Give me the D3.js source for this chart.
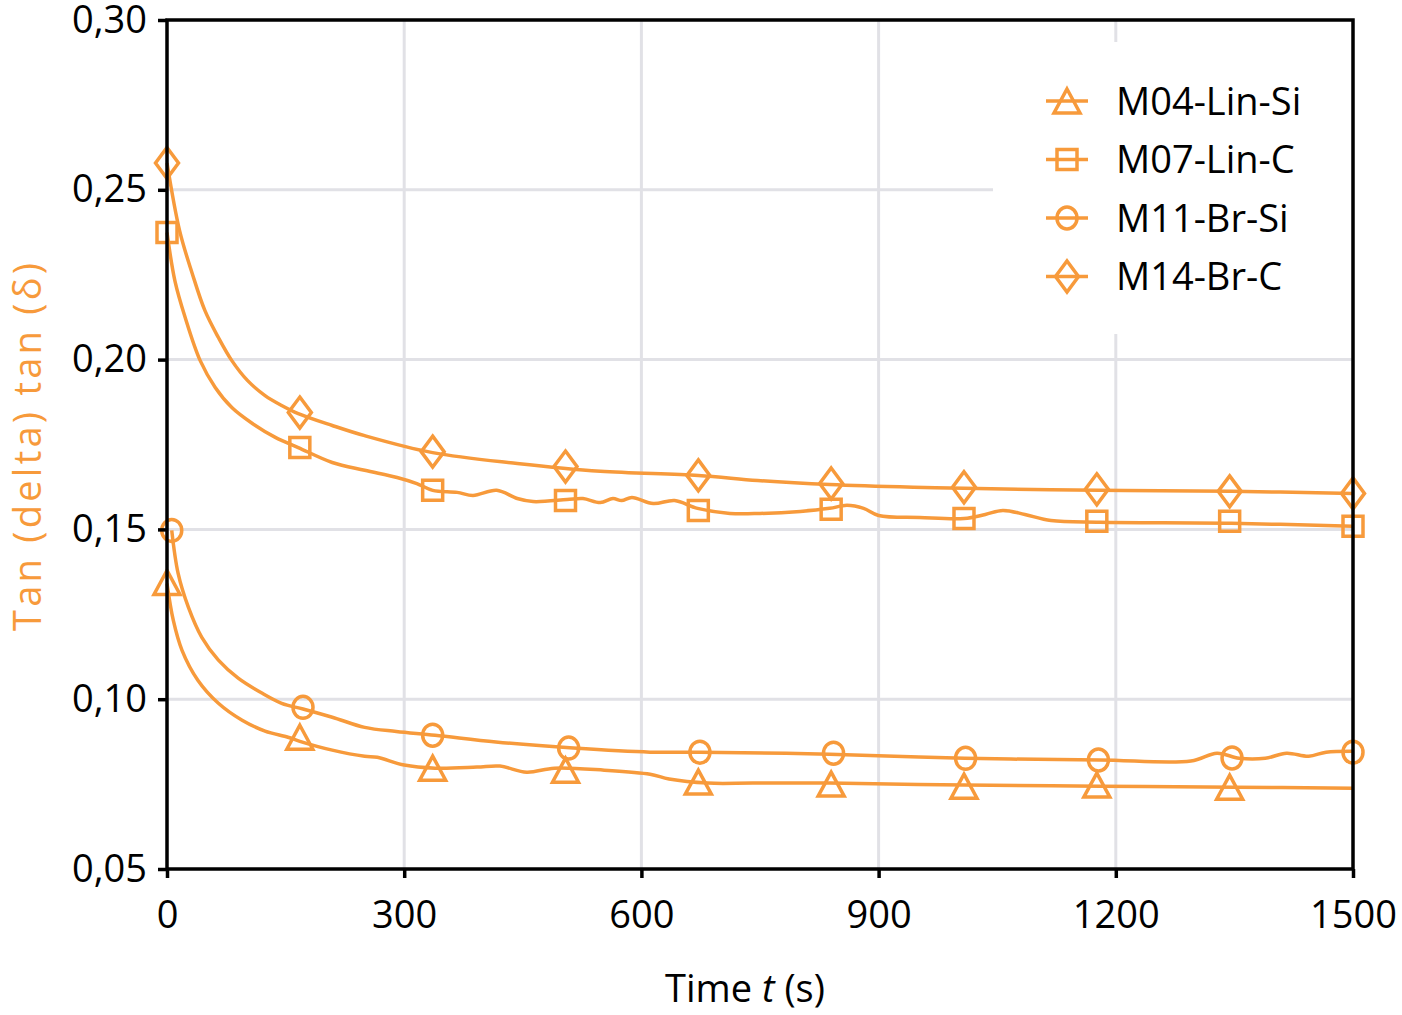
<!DOCTYPE html>
<html>
<head>
<meta charset="utf-8">
<script src="https://cdn.jsdelivr.net/npm/d3@7"></script>
<style>
   body { margin: 0; background: #fff; }
   text { font-family: 'Open Sans', sans-serif; }
</style>
</head>
<body>
<div id="chart"></div>
<script>
// tick values
const xTicks = [0, 300, 600, 900, 1200, 1500]
const yTicks = [0.05, 0.10, 0.15, 0.20, 0.25, 0.30]

// series names, in legend order
const seriesNames = ['M04-Lin-Si', 'M07-Lin-C', 'M11-Br-Si', 'M14-Br-C']
const seriesShapes = ['triangle', 'square', 'circle', 'diamond']

// times where markers sit (s)
const markerTimes = [0, 168, 336, 504, 672, 840, 1008, 1176, 1344, 1500]
const m11MarkerTimes = [6, 172, 336, 508, 674, 843, 1010, 1178, 1347, 1500]

// marker values per series
const m04Markers = [0.1344, 0.0888, 0.0797, 0.0791, 0.0756, 0.0750, 0.0744, 0.0747, 0.0741]
const m07Markers = [0.2374, 0.1741, 0.1615, 0.1585, 0.1556, 0.1559, 0.1532, 0.1524, 0.1524, 0.1509]
const m11Markers = [0.1497, 0.0976, 0.0894, 0.0856, 0.0844, 0.0841, 0.0826, 0.0821, 0.0827, 0.0844]
const m14Markers = [0.2579, 0.1844, 0.1729, 0.1685, 0.1659, 0.1635, 0.1624, 0.1618, 0.1612, 0.1606]

// measured curves (time, value)
const m04Times = [0, 8, 19, 39, 65, 95, 124, 153, 168, 209, 250, 266, 300, 339, 392, 421, 455, 490, 553, 611, 635, 684, 741, 838, 1009, 1180, 1351, 1500]
const m04Values = [0.1341, 0.1232, 0.1144, 0.1056, 0.0988, 0.0938, 0.0906, 0.0888, 0.0876, 0.0850, 0.0832, 0.0829, 0.0806, 0.0797, 0.0800, 0.0803, 0.0785, 0.0797, 0.0791, 0.0779, 0.0765, 0.0753, 0.0753, 0.0753, 0.0747, 0.0744, 0.0741, 0.0738]

const m07Times = [0, 10, 23, 42, 61, 82, 108, 137, 166, 209, 250, 291, 316, 336, 367, 387, 417, 443, 463, 506, 526, 548, 564, 575, 588, 615, 642, 671, 712, 750, 801, 838, 860, 881, 900, 952, 1008, 1035, 1057, 1085, 1118, 1180, 1346, 1500]
const m07Values = [0.2374, 0.2232, 0.2124, 0.1997, 0.1918, 0.1859, 0.1812, 0.1771, 0.1741, 0.1697, 0.1674, 0.1653, 0.1635, 0.1615, 0.1609, 0.1600, 0.1615, 0.1591, 0.1582, 0.1588, 0.1591, 0.1579, 0.1591, 0.1585, 0.1594, 0.1576, 0.1585, 0.1562, 0.1547, 0.1547, 0.1553, 0.1562, 0.1571, 0.1562, 0.1541, 0.1535, 0.1532, 0.1544, 0.1556, 0.1544, 0.1526, 0.1521, 0.1518, 0.1509]

const m11Times = [6, 14, 27, 44, 65, 90, 120, 145, 172, 209, 250, 290, 339, 416, 514, 611, 674, 838, 1009, 1180, 1295, 1328, 1356, 1389, 1416, 1444, 1466, 1500]
const m11Values = [0.1497, 0.1371, 0.1271, 0.1182, 0.1115, 0.1062, 0.1018, 0.0988, 0.0971, 0.0947, 0.0917, 0.0905, 0.0894, 0.0874, 0.0856, 0.0844, 0.0844, 0.0838, 0.0826, 0.0821, 0.0818, 0.0841, 0.0826, 0.0826, 0.0841, 0.0832, 0.0844, 0.0847]

const m14Times = [0, 16, 32, 48, 65, 82, 102, 124, 145, 166, 209, 250, 336, 443, 548, 672, 747, 838, 944, 1008, 1179, 1346, 1500]
const m14Values = [0.2579, 0.2379, 0.2253, 0.2144, 0.2065, 0.1997, 0.1938, 0.1894, 0.1865, 0.1841, 0.1806, 0.1776, 0.1726, 0.1694, 0.1671, 0.1659, 0.1644, 0.1632, 0.1624, 0.1621, 0.1615, 0.1612, 0.1606]

const curveTimes = [m04Times, m07Times, m11Times, m14Times]
const curveValues = [m04Values, m07Values, m11Values, m14Values]
const markerValues = [m04Markers, m07Markers, m11Markers, m14Markers]
const markerTimeSets = [markerTimes, markerTimes, m11MarkerTimes, markerTimes]

const ORANGE = '#f79a3b'

const shapePath = (shape) => {
   switch (shape) {
      case 'triangle': return 'M0,-12L13,12L-13,12Z'
      case 'square': return 'M-10,-10H10V10H-10Z'
      case 'circle': return 'M-10,0A10,11 0 1,0 10,0A10,11 0 1,0 -10,0Z'
      default: return 'M0,-15.5L11.5,0L0,15.5L-11.5,0Z'
   }
}

class TanDeltaChart {
   constructor(containerEl, props) {
      this.props = props
      const { width, height } = props
      this.svg = d3.select(containerEl)
         .append('svg')
         .attr('width', width)
         .attr('height', height)
      this.draw()
   }

   draw = () => {
      const { svg, props: { margin } } = this
      const w = this.props.width - margin.left - margin.right
      const h = this.props.height - margin.top - margin.bottom
      const g = svg.append('g').attr('transform', `translate(${margin.left},${margin.top})`)

      const x = d3.scaleLinear().domain([0, 1500]).range([0, w])
      const y = d3.scaleLinear().domain([0.05, 0.30]).range([h, 0])

      // grid
      const grid = g.append('g').attr('class', 'grid')
      grid.selectAll('.gx')
         .data(xTicks.slice(1, -1))
         .join('line')
         .attr('x1', d => x(d)).attr('x2', d => x(d))
         .attr('y1', 0).attr('y2', h)
      grid.selectAll('.gy')
         .data(yTicks.slice(1, -1))
         .join('line')
         .attr('class', 'gy')
         .attr('x1', 0).attr('x2', w)
         .attr('y1', d => y(d)).attr('y2', d => y(d))
      grid.selectAll('line').attr('stroke', '#e1e1e6').attr('stroke-width', 3)

      // legend background hides the grid
      g.append('rect')
         .attr('x', 826).attr('y', 22)
         .attr('width', w - 826).attr('height', 292)
         .attr('fill', '#fff')

      // curves
      const line = d3.line()
         .x(d => x(d[0]))
         .y(d => y(d[1]))
         .curve(d3.curveCatmullRom.alpha(0.5))
      curveTimes.forEach((ts, i) => {
         g.append('path')
            .datum(ts.map((t, j) => [t, curveValues[i][j]]))
            .attr('d', line)
            .attr('fill', 'none')
            .attr('stroke', ORANGE)
            .attr('stroke-width', 3.5)
      })

      // markers
      markerValues.forEach((vals, i) => {
         g.append('g').selectAll('path')
            .data(vals.map((v, j) => [markerTimeSets[i][j], v]))
            .join('path')
            .attr('transform', d => `translate(${x(d[0])},${y(d[1])})`)
            .attr('d', shapePath(seriesShapes[i]))
            .attr('fill', 'none')
            .attr('stroke', ORANGE)
            .attr('stroke-width', 3.5)
      })

      // frame
      g.append('rect')
         .attr('width', w).attr('height', h)
         .attr('fill', 'none')
         .attr('stroke', '#000')
         .attr('stroke-width', 3.5)

      const fmt = d => d3.format('.2f')(d).replace('.', ',')
      const yAxis = g.append('g')
         .call(d3.axisLeft(y).tickValues(yTicks).tickFormat(fmt).tickSize(9).tickPadding(11))
      const xAxis = g.append('g')
         .attr('transform', `translate(0,${h})`)
         .call(d3.axisBottom(x).tickValues(xTicks).tickFormat(d3.format('d')).tickSize(9).tickPadding(23))
      ;[xAxis, yAxis].forEach(a => {
         a.select('.domain').remove()
         a.selectAll('line').attr('stroke', '#000').attr('stroke-width', 3.5)
         a.selectAll('text').attr('font-size', 38).attr('font-family', "'Open Sans', sans-serif").attr('fill', '#000')
      })

      // axis titles
      const xt = svg.append('text')
         .attr('x', 745).attr('y', 1002)
         .attr('text-anchor', 'middle')
         .attr('font-size', 38)
      xt.append('tspan').text('Time ')
      xt.append('tspan').attr('font-style', 'italic').text('t')
      xt.append('tspan').text(' (s)')

      svg.append('text')
         .attr('transform', 'translate(41,447) rotate(-90)')
         .attr('text-anchor', 'middle')
         .attr('font-size', 38)
         .attr('textLength', 368)
         .attr('lengthAdjust', 'spacing')
         .attr('fill', ORANGE)
         .text('Tan (delta) tan (δ)')

      // legend
      const legend = g.append('g').attr('transform', 'translate(900,81)')
      const item = legend.selectAll('g')
         .data(seriesNames)
         .join('g')
         .attr('transform', (d, i) => `translate(0,${i * 58.5})`)
      item.append('line')
         .attr('x1', -21).attr('x2', 21)
         .attr('stroke', ORANGE).attr('stroke-width', 3.5)
      item.append('path')
         .attr('d', (d, i) => shapePath(seriesShapes[i]))
         .attr('fill', 'none')
         .attr('stroke', ORANGE)
         .attr('stroke-width', 3.5)
      item.append('text')
         .attr('x', 49).attr('y', 13.5)
         .attr('font-size', 38)
         .text(d => d)
   }
}

new TanDeltaChart(document.getElementById('chart'), {
   width: 1402,
   height: 1015,
   margin: { top: 20, right: 49, bottom: 146, left: 167 },
})
</script>
</body>
</html>
